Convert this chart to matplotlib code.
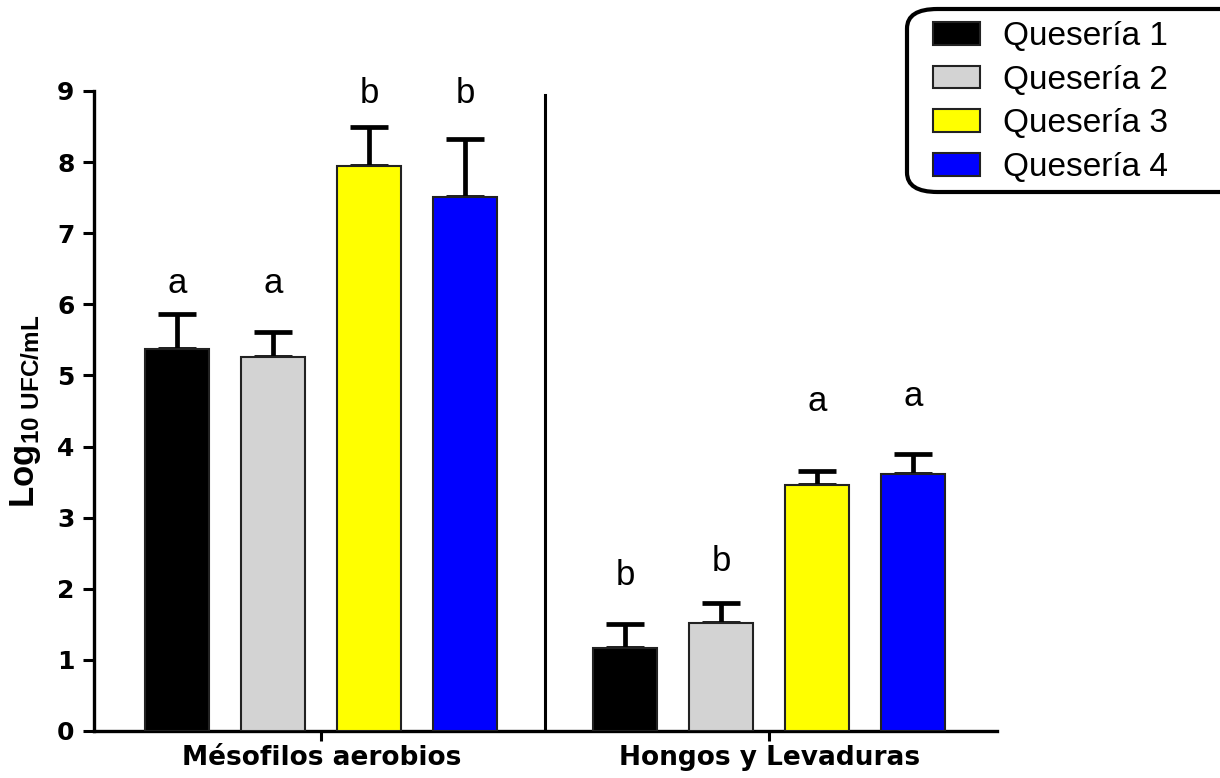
import numpy as np
import matplotlib.pyplot as plt
from matplotlib.patches import Patch, FancyBboxPatch

plt.rcParams['font.family'] = ['Liberation Sans', 'DejaVu Sans']
plt.rcParams['mathtext.fontset'] = 'custom'
plt.rcParams['mathtext.bf'] = 'Liberation Sans:bold'
plt.rcParams['mathtext.rm'] = 'Liberation Sans'

groups = ['Mésofilos aerobios', 'Hongos y Levaduras']
queserias = ['Quesería 1', 'Quesería 2', 'Quesería 3', 'Quesería 4']
colors = ['#000000', '#d3d3d3', '#ffff00', '#0000ff']

# mean log10 counts per cheese plant, one row per group
means = np.array([[5.37, 5.26, 7.95, 7.51],
                  [1.17, 1.52, 3.46, 3.61]])
sds = np.array([[0.49, 0.35, 0.55, 0.82],
                [0.33, 0.28, 0.20, 0.29]])
letters = [['a', 'a', 'b', 'b'],
           ['b', 'b', 'a', 'a']]

fig = plt.figure(figsize=(12.2, 7.78), dpi=100)
ax = fig.add_axes([94 / 1220, 47 / 778, 903 / 1220, 640 / 778])

centers = np.array([0.0, 7.0])
offsets = np.array([-2.25, -0.75, 0.75, 2.25])
# gap between the error bar cap and the significance letter
letter_pad = [[0.43, 0.68, 0.47, 0.64],
              [0.69, 0.58, 0.98, 0.81]]

for g in range(len(groups)):
    for i in range(len(queserias)):
        x = centers[g] + offsets[i]
        ax.bar(x, means[g, i], width=1.0, color=colors[i], edgecolor='#222222',
               linewidth=1.5, zorder=3)
        ax.errorbar(x, means[g, i], yerr=[[0], [sds[g, i]]], fmt='none', ecolor='black',
                    elinewidth=3.4, capsize=14, capthick=3.4, zorder=2)
        ax.text(x, means[g, i] + sds[g, i] + letter_pad[g][i], letters[g][i],
                ha='center', va='center', fontsize=25)

# separator between the two groups
ax.axvline(3.5, ymin=0, ymax=0.993, color='black', linewidth=2.2)

ax.set_xlim(-3.55, 10.56)
ax.set_ylim(0, 9)
ax.set_yticks(range(0, 10))
ax.set_xticks(centers)
ax.set_xticklabels(groups, fontsize=19, fontweight='bold', family='DejaVu Sans')
for lab in ax.get_yticklabels():
    lab.set_fontsize(18)
    lab.set_fontweight('bold')
    lab.set_family('DejaVu Sans')

for side in ['top', 'right']:
    ax.spines[side].set_visible(False)
for side in ['left', 'bottom']:
    ax.spines[side].set_linewidth(2.4)
ax.tick_params(axis='y', length=8, width=2.2, pad=6)
ax.tick_params(axis='x', length=7, width=2.2, pad=3)

ax.set_ylabel(r'$\mathbf{Log_{10\ UFC/mL}}$', fontsize=25, labelpad=10)

# legend box with rounded corners, running off the right edge
frame = FancyBboxPatch((907 / 1220, 1 - 192 / 778), 400 / 1220, 183 / 778,
                       boxstyle='round,pad=0,rounding_size=0.025',
                       transform=fig.transFigure, facecolor='white',
                       edgecolor='black', linewidth=3, clip_on=False)
fig.patches.append(frame)
handles = [Patch(facecolor=c, edgecolor='#222222', linewidth=1.5) for c in colors]
fig.legend(handles, queserias, loc='upper left', bbox_to_anchor=(933 / 1220, 1 - 21 / 778),
           frameon=False, fontsize=24, handlelength=1.41, handleheight=0.66,
           handletextpad=0.69, labelspacing=0.38, borderpad=0, borderaxespad=0)

fig.savefig('out.png', dpi=100)
